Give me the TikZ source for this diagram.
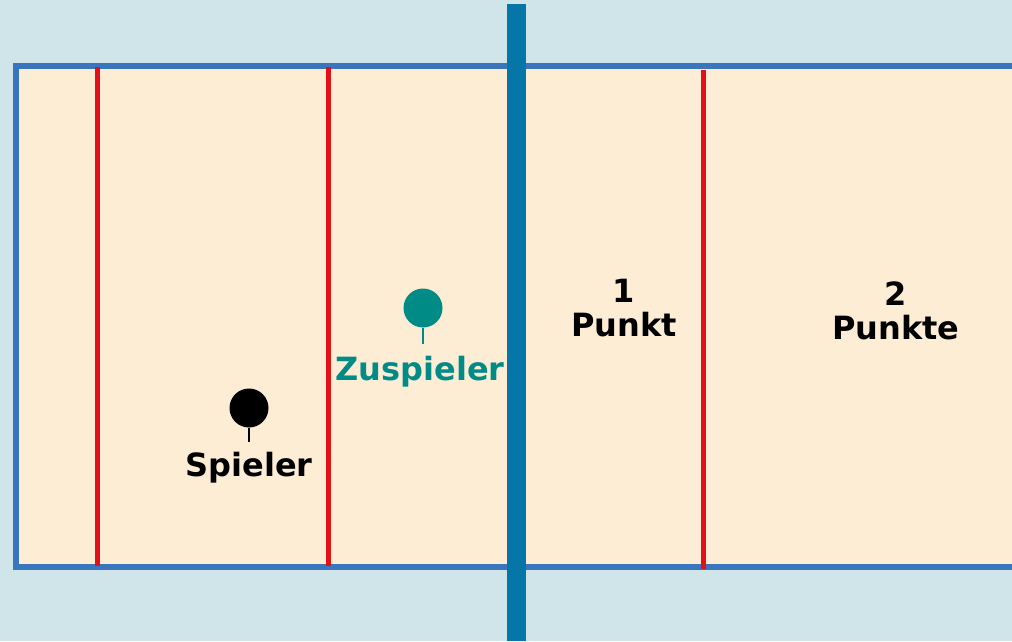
\documentclass[tikz,border=0pt]{standalone}
\usepackage{fontspec}
\setmainfont{DejaVu Sans}
\usetikzlibrary{positioning}

\definecolor{sky}{HTML}{D0E5EA}
\definecolor{sand}{HTML}{FDEDD5}
\definecolor{lineblue}{HTML}{3A76BD}
\definecolor{netblue}{HTML}{0675A8}
\definecolor{markred}{HTML}{E3101A}
\definecolor{setter}{HTML}{008B87}

\begin{document}
\begin{tikzpicture}[x = 1pt, y = -1pt,
	zone/.style = {markred, line width = 5pt},
	player/.style = {shape = circle, minimum size = 39pt, inner sep = 0pt},
	stem/.style = {line width = 2.5pt},
	tag/.style = {font = \bfseries\fontsize{32}{36}\selectfont, inner sep = 0pt}]

	\clip (0,0) rectangle (1012,641);
	\fill[sky] (0,0) rectangle (1012,641);

	% Spielfeld
	\draw[lineblue, fill = sand, line width = 6pt] (1030,65.5) -- (15.5,65.5) --
			(15.5,566.5) -- (1030,566.5);

	\draw[zone] (97.5,67) -- (97.5,566);
	\draw[zone] (328,67) -- (328,566);
	\draw[zone] (703,69.5) -- (703,569);

	% Spieler
	\draw (249,408) node[player,
					 fill = black] (S) {};
	\coordinate (Sfoot) at (249,442);
	\draw[stem, black] (S) -- (Sfoot);
	\node[tag, anchor = base] (Slabel) at (249,476) {Spieler};

	\draw (423,308) node[player,
					 fill = setter] (Z) {};
	\coordinate (Zfoot) at (423,344);
	\draw[stem, setter] (Z) -- (Zfoot);
	\node[tag, anchor = base, text = setter] (Zlabel) at (420,380) {Zuspieler};

	% Punkte
	\node[tag, align = center] (P1) at (624,308) {1\\[-2pt]Punkt};
	\node[tag, align = center] (P2) at (896,311) {2\\[-2pt]Punkte};

	% Netz
	\draw[netblue, line width = 19pt] (516.5,4) -- (516.5,641);
\end{tikzpicture}
\end{document}
